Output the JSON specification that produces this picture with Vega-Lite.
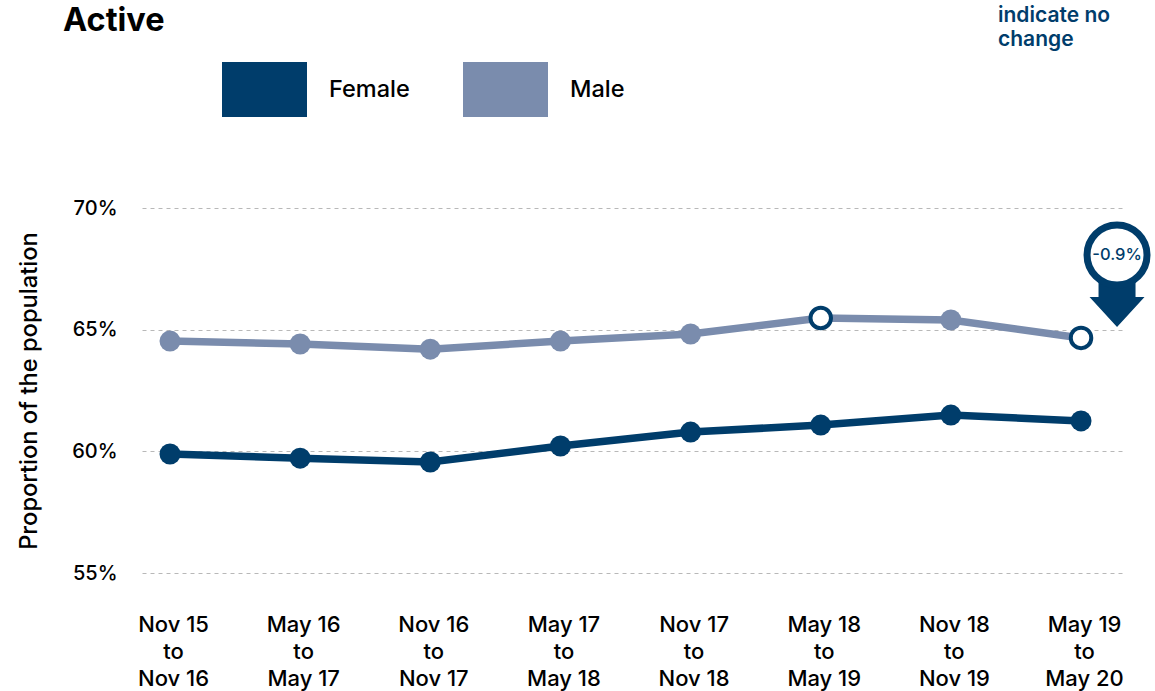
{"$schema":"https://vega.github.io/schema/vega-lite/v6.json","width":980,"height":365,"padding":{"left":142,"top":208,"right":33,"bottom":118},"autosize":"none","background":"white","title":{"text":"Active","anchor":"start","frame":"group","font":"Inter","fontSize":32.5,"fontWeight":700,"color":"#000000","dx":-79,"offset":0,"dy":33},"datasets":{"series":[{"period":"Nov 15 to Nov 16","sex":"Female","share":59.89,"status":"change"},{"period":"May 16 to May 17","sex":"Female","share":59.72,"status":"change"},{"period":"Nov 16 to Nov 17","sex":"Female","share":59.56,"status":"change"},{"period":"May 17 to May 18","sex":"Female","share":60.22,"status":"change"},{"period":"Nov 17 to Nov 18","sex":"Female","share":60.79,"status":"change"},{"period":"May 18 to May 19","sex":"Female","share":61.08,"status":"change"},{"period":"Nov 18 to Nov 19","sex":"Female","share":61.49,"status":"change"},{"period":"May 19 to May 20","sex":"Female","share":61.25,"status":"change"},{"period":"Nov 15 to Nov 16","sex":"Male","share":64.53,"status":"change"},{"period":"May 16 to May 17","sex":"Male","share":64.41,"status":"change"},{"period":"Nov 16 to Nov 17","sex":"Male","share":64.2,"status":"change"},{"period":"May 17 to May 18","sex":"Male","share":64.53,"status":"change"},{"period":"Nov 17 to Nov 18","sex":"Male","share":64.82,"status":"change"},{"period":"May 18 to May 19","sex":"Male","share":65.48,"status":"no change"},{"period":"Nov 18 to Nov 19","sex":"Male","share":65.4,"status":"change"},{"period":"May 19 to May 20","sex":"Male","share":64.66,"status":"no change"}],"callout":[{"period":"May 19 to May 20","ring":68.07,"arrow":66.34,"label":"-0.9%"}],"note":[{"period":"May 19 to May 20","pos":77.9,"text":"indicate no\nchange"}]},"data":{"name":"series"},"encoding":{"x":{"field":"period","type":"nominal","sort":null,"scale":{"type":"point","padding":0.265,"align":0.406},"axis":{"title":null,"domain":false,"ticks":false,"grid":false,"labelAngle":0,"labelAlign":"center","labelBaseline":"top","labelPadding":41,"labelOffset":3,"labelFont":"Inter","labelFontSize":22,"labelFontWeight":500,"labelColor":"#000000","labelLineHeight":27,"labelLimit":0,"labelOverlap":false,"labelBound":false,"labelFlush":false,"labelExpr":"[slice(datum.label,0,6),'to',slice(datum.label,10)]"}},"y":{"field":"share","type":"quantitative","scale":{"domain":[55,70],"nice":false,"zero":false},"axis":{"title":"Proportion of the population","titleFont":"Inter","titleFontSize":23.7,"titleFontWeight":500,"titleColor":"#000000","titlePadding":30,"values":[55,60,65,70],"labelExpr":"datum.value+'%'","domain":false,"ticks":false,"grid":true,"gridColor":"#b8b8b8","gridDash":[4,4],"gridWidth":1,"labelPadding":25,"labelFont":"Inter","labelFontSize":20,"labelFontWeight":500,"labelColor":"#000000"}}},"layer":[{"mark":{"type":"line","strokeWidth":7.5},"encoding":{"color":{"field":"sex","type":"nominal","scale":{"domain":["Female","Male"],"range":["#003d6b","#7a8cad"]},"legend":{"title":null,"orient":"none","legendX":80,"legendY":-161,"direction":"horizontal","symbolType":"M-1,-0.647H1V0.647H-1Z","symbolSize":7225,"symbolStrokeWidth":0,"symbolOpacity":1,"labelFont":"Inter","labelFontSize":23.5,"labelFontWeight":500,"labelColor":"#000000","labelOffset":22,"columnPadding":53}}}},{"transform":[{"filter":"datum.status==='change'"}],"mark":{"type":"point","filled":true,"size":441,"opacity":1},"encoding":{"color":{"field":"sex","type":"nominal","legend":null}}},{"transform":[{"filter":"datum.status==='no change'"}],"mark":{"type":"point","filled":false,"fill":"#ffffff","fillOpacity":1,"stroke":"#003d6b","strokeWidth":4,"size":420,"opacity":1}},{"data":{"name":"callout"},"mark":{"type":"point","shape":"M-0.37,-0.3H0.37V0H0.55L0,0.6L-0.55,0H-0.37Z","filled":true,"fill":"#003d6b","size":10000,"xOffset":36,"opacity":1,"clip":false},"encoding":{"y":{"field":"arrow","type":"quantitative"}}},{"data":{"name":"callout"},"mark":{"type":"point","shape":"circle","filled":false,"fill":"#ffffff","fillOpacity":1,"stroke":"#003d6b","strokeWidth":7,"size":3600,"xOffset":36,"opacity":1,"clip":false},"encoding":{"y":{"field":"ring","type":"quantitative"}}},{"data":{"name":"callout"},"mark":{"type":"text","font":"Inter","fontSize":16.5,"fontWeight":500,"color":"#003d6b","xOffset":36,"align":"center","baseline":"middle"},"encoding":{"y":{"field":"ring","type":"quantitative"},"text":{"field":"label"}}},{"data":{"name":"note"},"mark":{"type":"text","font":"Inter","fontSize":21,"fontWeight":600,"color":"#003d6b","xOffset":-83,"align":"left","baseline":"middle","lineBreak":"\n","lineHeight":24},"encoding":{"y":{"field":"pos","type":"quantitative"},"text":{"field":"text"}}}],"config":{"view":{"stroke":null}}}
